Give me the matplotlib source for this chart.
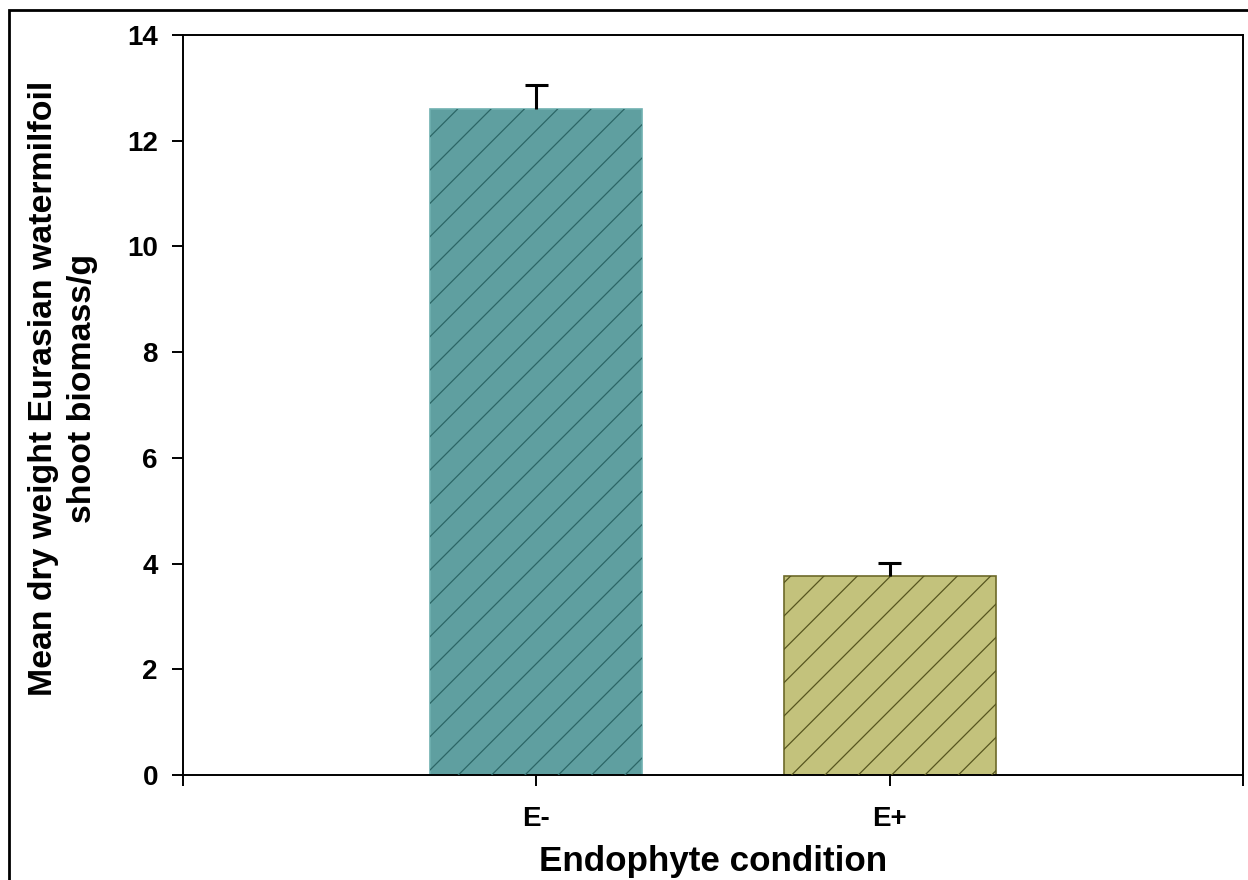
import matplotlib
matplotlib.use("Agg")
import matplotlib.pyplot as plt
from matplotlib.patches import Rectangle

# values
conditions = ["E-", "E+"]
biomass = [12.60, 3.77]
errors = [0.45, 0.24]
fill_colors = ["#5f9fa0", "#c3c27c"]
edge_colors = ["#6fb0b0", "#6d6a2a"]
hatch_colors = ["#2c6666", "#57551f"]

plt.rcParams['font.family'] = ['Liberation Sans', 'DejaVu Sans']
plt.rcParams['hatch.linewidth'] = 0.45

fig = plt.figure(figsize=(6.24, 4.4), dpi=200)
ax = fig.add_axes([0.1466, 0.1193, 0.8494, 0.8409])

x = [1, 2]
# filled bars
ax.bar(x, biomass, width=0.6, color=fill_colors, edgecolor=edge_colors,
       linewidth=0.6, zorder=2)
# hatch overlays in a darker tone
for xi, h, hc in zip(x, biomass, hatch_colors):
    ax.bar(xi, h, width=0.6, color="none", edgecolor=hc, hatch="//",
           linewidth=0, zorder=3)
# upper error bars only
tops = [b + e for b, e in zip(biomass, errors)]
ax.vlines(x, biomass, tops, colors="black", linewidth=1.1, zorder=4)
ax.hlines(tops, [xi - 0.033 for xi in x], [xi + 0.033 for xi in x],
          colors="black", linewidth=1.1, zorder=4)

ax.set_xlim(0, 3)
ax.set_ylim(0, 14)
ax.set_xticks([0, 1, 2, 3])
ax.set_xticklabels(["", conditions[0], conditions[1], ""])
ax.set_yticks(range(0, 15, 2))
for s in ax.spines.values():
    s.set_linewidth(0.7)
ax.tick_params(axis="both", direction="out", length=4, width=0.7)
ax.tick_params(axis="y", labelsize=10, pad=5)
ax.tick_params(axis="x", labelsize=10, pad=7)
for lbl in ax.get_xticklabels() + ax.get_yticklabels():
    lbl.set_fontweight("bold")

ax.set_xlabel("Endophyte condition", fontsize=12.6, fontweight="bold", labelpad=5)
ax.set_ylabel("Mean dry weight Eurasian watermilfoil\nshoot biomass/g",
              fontsize=12.2, fontweight="bold", linespacing=1.35)
ax.yaxis.set_label_coords(-0.08, 0.523)

# outer frame of the original image (clipped at right and bottom)
fig.patches.append(Rectangle((9 / 1248, -0.1), 1.2, 1 - 10 / 880 + 0.1,
                             transform=fig.transFigure, fill=False,
                             edgecolor="black", linewidth=1.0))

fig.savefig("out.png", dpi=200)
